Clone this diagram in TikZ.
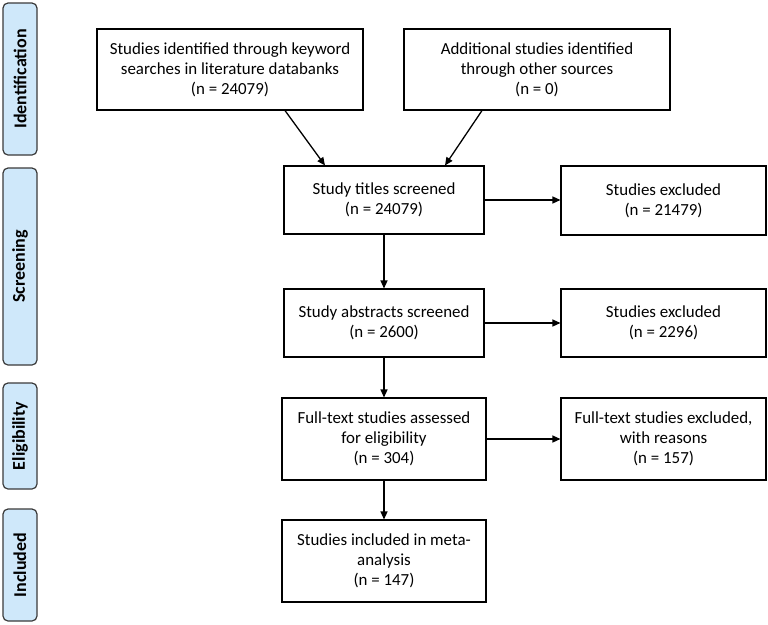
\documentclass[tikz,border=0pt]{standalone}
\usepackage{fontspec}
\setmainfont{Carlito}
\usetikzlibrary{arrows.meta}
\definecolor{phasefill}{HTML}{CFE8FA}
\definecolor{phaseline}{HTML}{3A3A3A}
\tikzset{
  box/.style={draw=black, line width=1.1pt, fill=white, align=center, inner sep=2pt,
    font=\fontsize{16.9}{20}\selectfont},
  phase/.style={draw=phaseline, line width=1.2pt, fill=phasefill, rounded corners=5pt,
    rotate=90, minimum height=34pt, inner sep=0pt, font=\fontsize{18}{20}\selectfont\bfseries},
  arr/.style={line width=1.3pt, -{Triangle[length=8pt,width=7pt]}}
}
\begin{document}
\begin{tikzpicture}[x=1pt,y=-1pt]
\useasboundingbox (0,0) rectangle (768,624);
% phase labels
\node[phase, minimum width=152pt] (p1) at (20,79) {Identification};
\node[phase, minimum width=197pt] (p2) at (20,266.5) {Screening};
\node[phase, minimum width=106pt] (p3) at (20,436) {Eligibility};
\node[phase, minimum width=112pt] (p4) at (20,565) {Included};
% boxes
\node[box, minimum width=266pt, minimum height=81pt] (b1) at (230,69.5)
  {Studies identified through keyword\\searches in literature databanks\\(n = 24079)};
\node[box, minimum width=266pt, minimum height=81pt] (b2) at (537,69.5)
  {Additional studies identified\\through other sources\\(n = 0)};
\node[box, minimum width=200pt, minimum height=68pt] (t) at (384,200)
  {Study titles screened\\(n = 24079)};
\node[box, minimum width=205pt, minimum height=69pt] (e1) at (663.5,200.5)
  {Studies excluded\\(n = 21479)};
\node[box, minimum width=200pt, minimum height=68pt] (a) at (384,323)
  {Study abstracts screened\\(n = 2600)};
\node[box, minimum width=205pt, minimum height=68pt] (e2) at (663.5,323)
  {Studies excluded\\(n = 2296)};
\node[box, minimum width=204pt, minimum height=82pt] (f) at (384,439)
  {Full-text studies assessed\\for eligibility\\(n = 304)};
\node[box, minimum width=205pt, minimum height=82pt] (e3) at (663.5,439)
  {Full-text studies excluded,\\with reasons\\(n = 157)};
\node[box, minimum width=204pt, minimum height=82pt] (i) at (384,561)
  {Studies included in meta-\\analysis\\(n = 147)};
% connectors
\draw[arr] (b1.south -| 285,0) -- (t.north -| 325,0);
\draw[arr] (b2.south -| 482,0) -- (t.north -| 445,0);
\draw[arr] (t.east) -- (e1.west |- t.east);
\draw[arr] (a.east) -- (e2.west |- a.east);
\draw[arr] (f.east) -- (e3.west |- f.east);
\draw[arr] (t.south) -- (a.north);
\draw[arr] (a.south) -- (f.north);
\draw[arr] (f.south) -- (i.north);
\end{tikzpicture}
\end{document}
